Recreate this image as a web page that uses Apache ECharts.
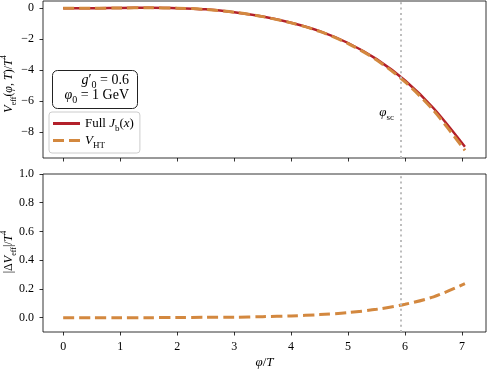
<!DOCTYPE html>
<html>
<head>
<meta charset="utf-8">
<script src="https://cdn.jsdelivr.net/npm/echarts@6/dist/echarts.min.js"></script>
<style>
  html, body { margin: 0; padding: 0; background: #fff; }
  #chart { width: 488px; height: 369px; }
</style>
</head>
<body>
<div id="chart"></div>
<script>
// phi/T sample points
var phi = [0, 0.5, 1.0, 1.5, 2.0, 2.5, 3.0, 3.5, 4.0, 4.5, 5.0, 5.5, 6.0, 6.5, 7.05]
// V_eff / T^4, full J_b(x)
var vFull = [0, 0.0, 0.02, 0.03, 0.01, -0.07, -0.25, -0.53, -0.93, -1.47, -2.24, -3.28, -4.66, -6.45, -8.93]
// high-temperature expansion
var vHT = [0, 0.0, 0.02, 0.03, 0.009, -0.072, -0.253, -0.537, -0.942, -1.491, -2.275, -3.338, -4.753, -6.595, -9.166]
// |dV| / T^4
var dV = [0, 0, 0, 0, 0.001, 0.002, 0.003, 0.007, 0.012, 0.021, 0.035, 0.058, 0.093, 0.145, 0.236]

var xTicks = [0, 1, 2, 3, 4, 5, 6, 7]
var yTopTicks = [0, -2, -4, -6, -8]
var yBotTicks = [0, 0.2, 0.4, 0.6, 0.8, 1.0]
var phiSc = 5.93

var RED = '#b3202a'
var ORANGE = '#d3883f'
var SERIF = '"Liberation Serif", "DejaVu Serif", serif'

function pairs(xs, ys) {
  return xs.map(function (x, i) { return [x, ys[i]] })
}

function richSet(size, color) {
  var sub = Math.round(size * 0.7)
  return {
    i: { fontFamily: SERIF, fontStyle: 'italic', fontSize: size, lineHeight: size + 6, color: color },
    r: { fontFamily: SERIF, fontSize: size, lineHeight: size + 6, color: color },
    sb: { fontFamily: SERIF, fontSize: sub, lineHeight: sub + 1, verticalAlign: 'bottom', color: color },
    sp: { fontFamily: SERIF, fontSize: sub, lineHeight: sub + 1, verticalAlign: 'top', color: color }
  }
}
var rich = richSet(13, '#000')
var richName = richSet(12, '#000')
var richBox = richSet(14, '#000')

var vline = {
  silent: true,
  symbol: ['none', 'none'],
  label: { show: false },
  lineStyle: { type: [2, 3.3], color: '#bdbdbd', width: 2 },
  data: [{ xAxis: phiSc }]
}

var tickStyle = { color: '#000', width: 0.8 }

function xAxisCfg(grid, labels) {
  return {
    type: 'value', gridIndex: grid, min: -0.354, max: 7.42,
    axisLine: { show: false, onZero: false },
    splitLine: { show: false },
    axisTick: { show: true, customValues: xTicks, length: 3.5, lineStyle: tickStyle },
    axisLabel: {
      show: labels, customValues: xTicks, margin: 9,
      fontFamily: SERIF, fontSize: 12, color: '#000'
    }
  }
}

function yAxisCfg(grid, min, max, ticks, fmt) {
  return {
    type: 'value', gridIndex: grid, min: min, max: max,
    axisLine: { show: false, onZero: false }, splitLine: { show: false },
    axisTick: { customValues: ticks, length: 3.5, lineStyle: tickStyle },
    axisLabel: {
      customValues: ticks, margin: 9, fontFamily: SERIF, fontSize: 12, color: '#000',
      formatter: fmt
    }
  }
}

function vText(x, y, text) {
  return {
    type: 'text', x: x, y: y, rotation: Math.PI / 2, z: 11,
    style: { text: text, rich: richName, align: 'center', verticalAlign: 'middle' }
  }
}

var chart = echarts.init(document.getElementById('chart'))
chart.setOption({
  animation: false,
  grid: [
    { left: 43, right: 2, top: 1, height: 157, outerBoundsMode: 'none', show: true, borderColor: '#000', borderWidth: 0.8, backgroundColor: 'transparent' },
    { left: 43, right: 2, top: 174, height: 158, outerBoundsMode: 'none', show: true, borderColor: '#000', borderWidth: 0.8, backgroundColor: 'transparent' }
  ],
  xAxis: [
    xAxisCfg(0, false),
    Object.assign(xAxisCfg(1, true), {
      name: '{i|φ}{r|/}{i|T}',
      nameLocation: 'middle',
      nameGap: 21,
      nameMoveOverlap: false,
      nameTextStyle: { rich: rich }
    })
  ],
  yAxis: [
    yAxisCfg(0, -9.66, 0.47, yTopTicks,
      function (v) { return v < 0 ? '\u2212' + Math.abs(v) : String(v) }),
    yAxisCfg(1, -0.1, 1.0, yBotTicks,
      function (v) { return v.toFixed(1) })
  ],
  legend: {
    left: 49, top: 112,
    orient: 'vertical',
    itemWidth: 27, itemHeight: 3, itemGap: 1,
    padding: [5, 6, 3, 4],
    borderColor: '#cccccc', borderWidth: 1, borderRadius: 3,
    backgroundColor: 'rgba(255,255,255,0.8)',
    data: [
      { name: 'Full', icon: 'path://M0,0H27V3H0Z', itemStyle: { color: RED } },
      { name: 'VHT', icon: 'path://M0,0H11V3H0Z M16,0H27V3H16Z', itemStyle: { color: ORANGE } }
    ],
    formatter: function (name) {
      return name === 'Full'
        ? '{r|Full }{i|J}{sb|b}{r|(}{i|x}{r|)}'
        : '{i|V}{sb|HT}'
    },
    textStyle: { rich: rich }
  },
  graphic: [
    vText(9, 84, '{i|V}{sb|eff}{r|(}{i|φ}{r|, }{i|T}{r|)/}{i|T}{sp|4}'),
    vText(9, 252, '{r||Δ}{i|V}{sb|eff}{r||/}{i|T}{sp|4}'),
    {
      type: 'rect', left: 52, top: 70, z: 10,
      shape: { width: 85, height: 38, r: 5 },
      style: { fill: 'rgba(255,255,255,0.9)', stroke: '#222', lineWidth: 1 }
    },
    {
      type: 'text', right: 488 - 129, top: 73, z: 11,
      style: { text: '{i|g}{r|′}{sb|0}{r| = 0.6}', rich: richBox, align: 'right' }
    },
    {
      type: 'text', right: 488 - 129, top: 88, z: 11,
      style: { text: '{i|φ}{sb|0}{r| = 1 GeV}', rich: richBox, align: 'right' }
    },
    {
      type: 'text', right: 488 - 394, top: 106, z: 11,
      style: { text: '{i|φ}{sb|sc}', rich: richSet(13, '#444') }
    }
  ],
  series: [
    {
      name: 'Full', type: 'line', xAxisIndex: 0, yAxisIndex: 0,
      data: pairs(phi, vFull), smooth: 0.3, symbol: 'none',
      lineStyle: { color: RED, width: 2.5 }, itemStyle: { color: RED },
      markLine: vline
    },
    {
      name: 'VHT', type: 'line', xAxisIndex: 0, yAxisIndex: 0,
      data: pairs(phi, vHT), smooth: 0.3, symbol: 'none',
      lineStyle: { color: ORANGE, width: 3, type: [11, 5] }, itemStyle: { color: ORANGE }
    },
    {
      name: 'dV', type: 'line', xAxisIndex: 1, yAxisIndex: 1,
      data: pairs(phi, dV), smooth: 0.3, symbol: 'none',
      lineStyle: { color: ORANGE, width: 3, type: [11, 5] }, itemStyle: { color: ORANGE },
      markLine: vline
    }
  ]
})
</script>
</body>
</html>
